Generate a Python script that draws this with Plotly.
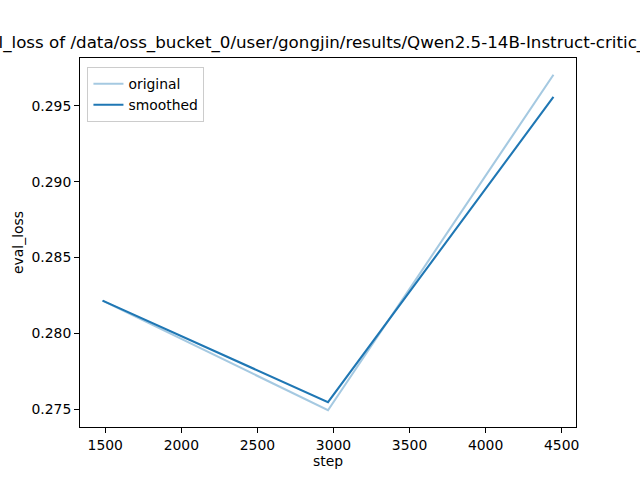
import plotly.graph_objects as go

steps = [1482, 2964, 4446]
original = [0.28217, 0.27495, 0.29704]
smoothed = [0.28217, 0.27548, 0.29558]
title_text = "eval_loss of /data/oss_bucket_0/user/gongjin/results/Qwen2.5-14B-Instruct-critic_test1"

font = "DejaVu Sans"
fig = go.Figure()
fig.add_trace(go.Scatter(x=steps, y=original, mode="lines", name="original",
                         line=dict(color="rgba(31,119,180,0.4)", width=2.08)))
fig.add_trace(go.Scatter(x=steps, y=smoothed, mode="lines", name="smoothed",
                         line=dict(color="#1f77b4", width=2.08)))

span_x = steps[-1] - steps[0]
ally = original + smoothed
span_y = max(ally) - min(ally)

axis_common = dict(showline=True, linecolor="black", linewidth=1, mirror=True,
                   ticks="outside", ticklen=4.9, tickcolor="black", tickwidth=1,
                   showgrid=False, zeroline=False, automargin=False,
                   tickfont=dict(family=font, size=13.9, color="black"))

fig.update_layout(
    width=640, height=480,
    margin=dict(l=80, r=64, t=57.6, b=52.8, autoexpand=False),
    plot_bgcolor="white", paper_bgcolor="white",
    title=dict(text=title_text, x=0.5, xanchor="center", xref="paper",
               y=1 - 42 / 480, yanchor="middle", automargin=False,
               font=dict(family=font, size=16.7, color="black")),
    xaxis=dict(**axis_common,
               range=[steps[0] - 0.05 * span_x, steps[-1] + 0.05 * span_x],
               tickmode="array", tickvals=[1500, 2000, 2500, 3000, 3500, 4000, 4500],
               title=dict(text="step", font=dict(family=font, size=13.9, color="black"), standoff=4)),
    yaxis=dict(**axis_common,
               range=[min(ally) - 0.05 * span_y, max(ally) + 0.05 * span_y],
               tickmode="array", tickvals=[0.275, 0.280, 0.285, 0.290, 0.295],
               tickformat=".3f",
               title=dict(text="eval_loss", font=dict(family=font, size=13.9, color="black"), standoff=4)),
    legend=dict(x=0.015, y=0.975, xanchor="left", yanchor="top",
                bgcolor="rgba(255,255,255,0.8)", bordercolor="#cccccc", borderwidth=1,
                font=dict(family=font, size=13.9, color="black"),
                itemwidth=30, tracegroupgap=0),
    showlegend=True,
)

fig.write_html("out.html", config={"displayModeBar": False},
               post_script="document.body.style.margin='0';")
